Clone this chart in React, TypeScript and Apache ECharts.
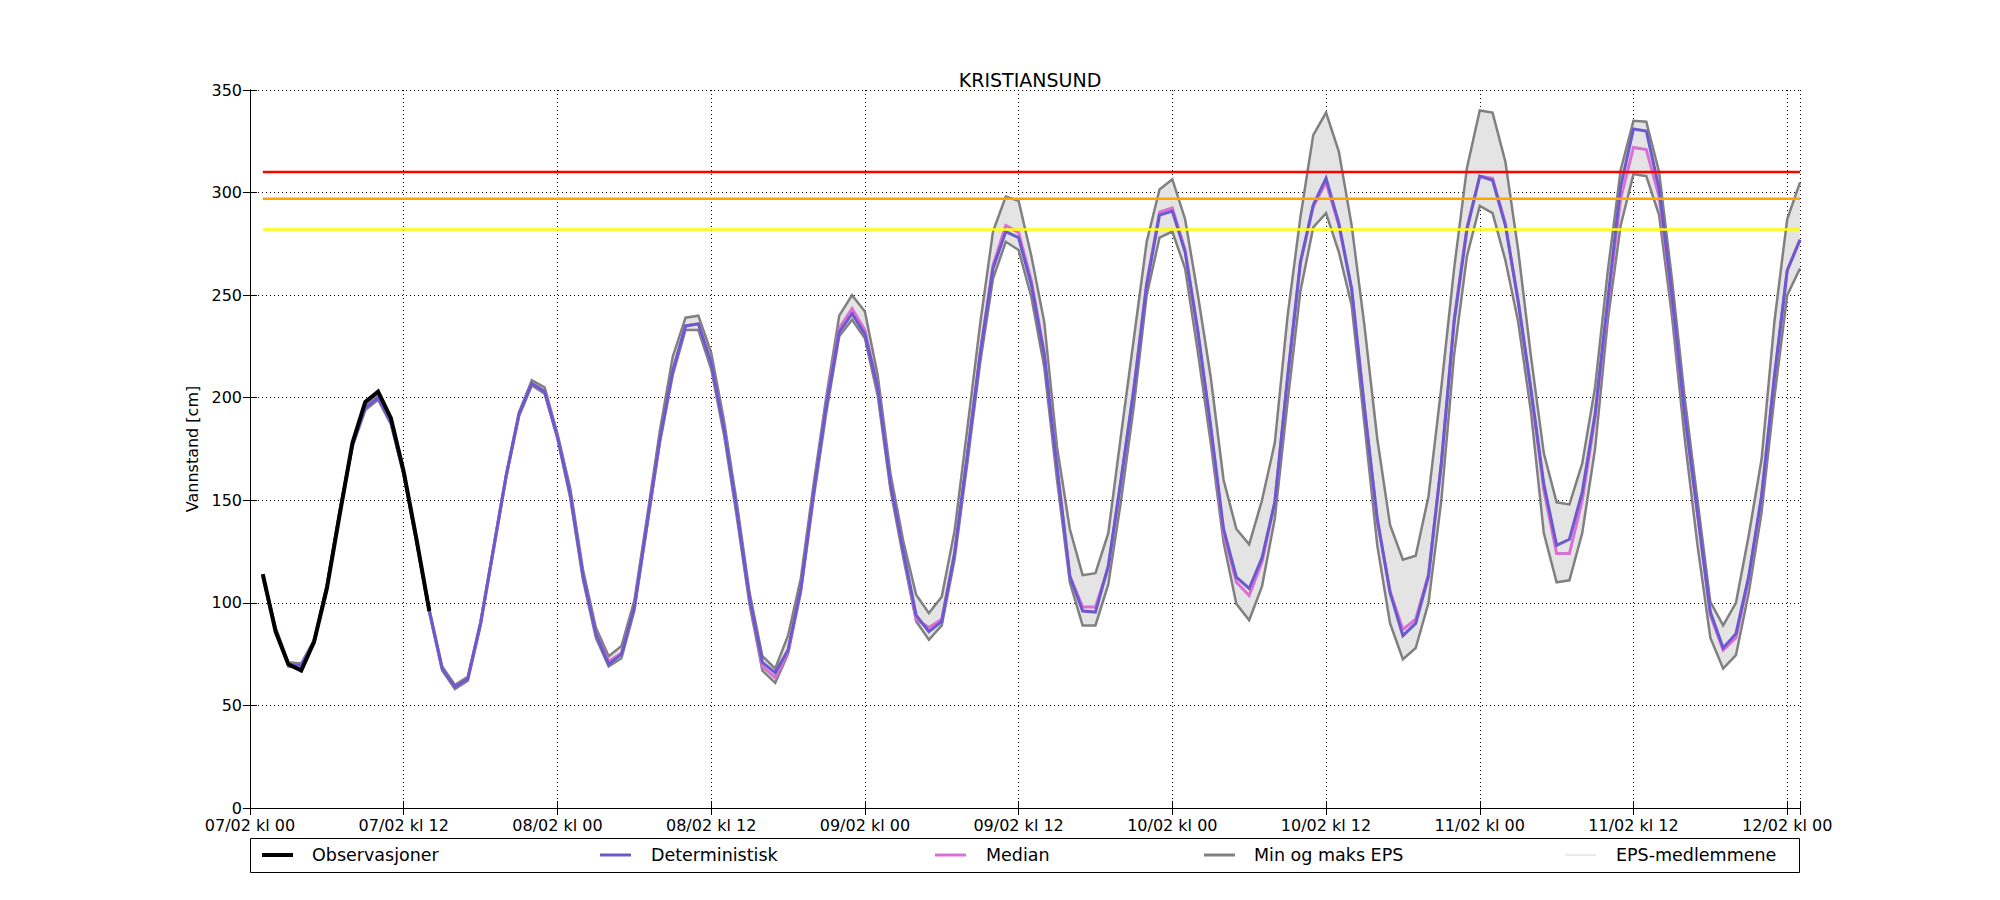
import React, { useEffect, useRef } from 'react';
import * as echarts from 'echarts';

const FONT = 'DejaVu Sans';

// x-axis tick labels (every 12 hours, starting 07/02 kl 00 = hour 0)
const tickLabels = [
  '07/02 kl 00', '07/02 kl 12', '08/02 kl 00', '08/02 kl 12', '09/02 kl 00', '09/02 kl 12',
  '10/02 kl 00', '10/02 kl 12', '11/02 kl 00', '11/02 kl 12', '12/02 kl 00',
];

// Observations, hourly from hour 1
const observasjoner = [114, 86, 70, 67, 81, 107, 143, 178, 198, 203, 190, 164, 131, 96];

// Deterministic forecast, hourly from hour 1 to 121
const deterministisk = [
  113, 87, 70, 69.5, 81, 108, 144, 177, 195, 200, 188, 163, 130, 96, 68, 59, 63, 90, 126, 162,
  192, 207, 203, 181, 153, 113, 85, 70, 75, 98, 139, 180, 213, 235, 236, 217, 185, 145, 102, 71,
  66, 77, 107, 154, 197, 232, 241, 231, 205, 158, 125, 94, 86, 91, 124, 172, 221, 263, 281, 278,
  255, 221, 166, 113, 96, 95.5, 118, 160, 204, 255, 289, 291, 271, 232, 186, 136, 112.5, 107, 122, 149,
  210, 266, 294, 307, 285, 253, 195, 141, 105, 84, 90, 113, 168, 237, 282, 308, 306, 284, 247, 204,
  158, 128, 131, 154, 192, 248, 303, 331, 330, 302, 250, 192, 144, 95.5, 78, 85, 113, 152, 210, 262,
  277,
];

// EPS median
const median = [
  113, 87, 70, 69.5, 81, 108, 144, 177, 195, 200, 188, 163, 130, 96, 68, 59, 63, 90, 126, 162,
  192, 207, 203, 181, 153, 113, 85, 71.5, 75.5, 98, 139, 180, 213, 235, 236, 217, 185, 145, 102, 69,
  63.5, 76, 107, 154, 198, 234, 243.5, 233, 205, 158, 125, 92, 88, 92, 124, 172, 222, 264.5, 284, 280.5,
  257, 222, 166, 113, 98, 98, 117, 160, 205, 256, 290.5, 292.5, 272, 232, 185, 134, 110, 103.6, 120, 149,
  210, 266, 293, 305, 284, 253, 195, 140, 105.5, 87, 92, 114, 168, 238, 283, 308, 307, 285, 247, 203,
  155, 124, 124, 150, 190, 246, 297, 322, 321, 298, 248, 191, 143, 94, 77, 83, 112, 152, 210, 262,
  277,
];

// EPS maximum
const epsMax = [
  114, 88, 71, 70.5, 82, 109, 145, 178, 196.5, 201.5, 189, 164, 131, 97, 69, 60, 64, 91, 127, 163,
  193, 208.5, 205, 182.5, 156, 116, 88, 74, 79, 101, 142, 184, 220, 239, 240, 222, 189, 149, 105, 74,
  68, 84, 112, 158, 201, 240, 250, 242, 211, 163, 130, 104, 95, 103, 135, 185, 236, 281, 298, 296,
  269, 237, 176, 136, 113.5, 114.5, 134, 182, 229, 276, 301.5, 306.5, 287, 250, 210, 160, 136, 128.5, 150, 178,
  240, 288, 328, 339, 320, 284, 235, 180, 138, 121, 123, 152, 205, 263, 312, 340, 339, 315, 272, 220,
  173, 149, 148, 168, 205, 262, 311, 335, 334.5, 310, 258, 200, 150, 100.5, 89, 100, 133, 170, 237, 287,
  305,
];

// EPS minimum
const epsMin = [
  112, 86, 69, 68.5, 80, 107, 143, 176, 194, 199, 187, 162, 129, 95, 67, 58, 62, 89, 125, 161,
  191, 206, 202, 180, 151, 111, 83, 69, 73, 96, 137, 178, 211, 233, 233, 214, 182, 142, 99, 67,
  61, 75, 105, 151, 193, 230, 238, 229, 201, 155, 122, 91, 82, 89, 121, 168, 217, 258, 276, 272,
  249, 215, 160, 110, 89, 89, 109, 150, 196, 250, 278, 281, 263, 222, 178, 129.5, 99.5, 91.5, 108, 141,
  198, 252, 283, 290, 271, 245, 187, 128, 90, 72.5, 78, 100, 150, 221, 269, 293.5, 290, 267, 237, 193,
  134, 110, 111, 134, 175, 238, 284, 309, 308, 289, 240, 180, 128, 83, 68, 74.5, 105, 144, 200, 250,
  263,
];

// Warning levels
const levelRed = 310;
const levelOrange = 297;
const levelYellow = 282;

const C_OBS = '#000000';
const C_DET = '#6a5acd';
const C_MED = '#da70d6';
const C_MINMAX = '#808080';
const C_EPS = '#d3d3d3';

export default function App() {
  const ref = useRef<HTMLDivElement>(null);

  useEffect(() => {
    if (!ref.current) return;
    const chart = echarts.init(ref.current, null, { renderer: 'svg' });
    const toXY = (arr: number[]) => arr.map((v, i) => [i + 1, v]);
    const lastHour = deterministisk.length;
    const bandData = epsMax.map((v, i) => [i + 1, epsMin[i], v]);
    const gridLine = { type: [1, 3], color: '#000', width: 1 };
    const spine = { show: true, lineStyle: { color: '#000', width: 1 } };
    const tick = { show: true, inside: true, length: 7, lineStyle: { color: '#000', width: 1 } };
    const levelSeries = (val: number, color: string) => ({
      type: 'line',
      data: [[1, val], [lastHour, val]],
      symbol: 'none',
      silent: true,
      z: 6,
      lineStyle: { color, width: 2.5 },
    });
    const plain = (name: string, data: number[], color: string, width: number, z: number) => ({
      name,
      type: 'line',
      data: toXY(data),
      symbol: 'none',
      silent: true,
      z,
      lineStyle: { color, width, join: 'miter' },
    });

    const legendY = 855;
    const legendItems = [
      { label: 'Observasjoner', color: C_OBS, width: 4, x: 262, tx: 312 },
      { label: 'Deterministisk', color: C_DET, width: 3, x: 600, tx: 651 },
      { label: 'Median', color: C_MED, width: 3, x: 935, tx: 986 },
      { label: 'Min og maks EPS', color: C_MINMAX, width: 3, x: 1204, tx: 1254 },
      { label: 'EPS-medlemmene', color: C_EPS, width: 1, x: 1565, tx: 1616 },
    ];
    const graphic: any[] = [
      {
        type: 'rect',
        shape: { x: 250.5, y: 838.5, width: 1549, height: 34 },
        style: { fill: 'none', stroke: '#000', lineWidth: 1 },
        z: 10,
      },
    ];
    legendItems.forEach((it) => {
      graphic.push({
        type: 'line',
        shape: { x1: it.x, y1: legendY, x2: it.x + 31, y2: legendY },
        style: { stroke: it.color, lineWidth: it.width },
        z: 10,
      });
      graphic.push({
        type: 'text',
        x: it.tx,
        y: legendY,
        style: {
          text: it.label,
          fill: '#000',
          font: `17.5px "${FONT}"`,
          textVerticalAlign: 'middle',
          verticalAlign: 'middle',
        },
        z: 10,
      });
    });

    const option: any = {
      animation: false,
      title: {
        text: 'KRISTIANSUND',
        left: 1025,
        top: 65,
        textAlign: 'center',
        textStyle: { fontFamily: FONT, fontSize: 19, fontWeight: 'normal', color: '#000' },
      },
      grid: { left: 250, top: 90, width: 1550, height: 718 },
      xAxis: [
        {
          type: 'value',
          min: 0,
          max: lastHour,
          interval: 12,
          position: 'bottom',
          axisLine: spine,
          axisTick: tick,
          axisLabel: {
            formatter: (v: number) => (v % 12 === 0 && tickLabels[v / 12] ? tickLabels[v / 12] : ''),
            fontFamily: FONT,
            fontSize: 16,
            color: '#000',
            margin: 9,
            showMinLabel: true,
            showMaxLabel: true,
          },
          splitLine: { show: true, lineStyle: gridLine },
        },
        {
          type: 'value',
          min: 0,
          max: lastHour,
          interval: 12,
          position: 'top',
          axisLine: spine,
          axisTick: tick,
          axisLabel: { show: false },
          splitLine: { show: false },
        },
      ],
      yAxis: [
        {
          type: 'value',
          min: 0,
          max: 350,
          interval: 50,
          position: 'left',
          name: 'Vannstand [cm]',
          nameLocation: 'middle',
          nameGap: 45,
          nameTextStyle: { fontFamily: FONT, fontSize: 16, color: '#000' },
          axisLine: spine,
          axisTick: tick,
          axisLabel: { fontFamily: FONT, fontSize: 16, color: '#000', margin: 8 },
          splitLine: { show: true, lineStyle: gridLine },
        },
        {
          type: 'value',
          min: 0,
          max: 350,
          interval: 50,
          position: 'right',
          axisLine: spine,
          axisTick: tick,
          axisLabel: { show: false },
          splitLine: { show: false },
        },
      ],
      graphic,
      series: [
        {
          name: 'EPS-medlemmene',
          type: 'custom',
          data: bandData,
          silent: true,
          clip: true,
          z: 1,
          encode: { x: 0, y: [1, 2] },
          renderItem: (params: any, api: any) => {
            if (params.dataIndex !== 0) return null;
            const upper = bandData.map((d) => api.coord([d[0], d[2]]));
            const lower = bandData.map((d) => api.coord([d[0], d[1]])).reverse();
            return {
              type: 'polygon',
              shape: { points: upper.concat(lower) },
              style: { fill: '#e4e4e4', stroke: 'none' },
            };
          },
        },
        plain('Min og maks EPS', epsMax, C_MINMAX, 2.5, 2),
        plain('Min EPS', epsMin, C_MINMAX, 2.5, 2),
        plain('Median', median, C_MED, 3, 3),
        plain('Deterministisk', deterministisk, C_DET, 3, 4),
        plain('Observasjoner', observasjoner, C_OBS, 4, 5),
        levelSeries(levelRed, '#ff0000'),
        levelSeries(levelOrange, '#ffa500'),
        levelSeries(levelYellow, '#ffff00'),
      ],
    };
    chart.setOption(option);
    return () => chart.dispose();
  }, []);

  return (
    <div
      ref={ref}
      style={{ position: 'absolute', left: 0, top: 0, width: 2000, height: 900, background: '#fff' }}
    />
  );
}
